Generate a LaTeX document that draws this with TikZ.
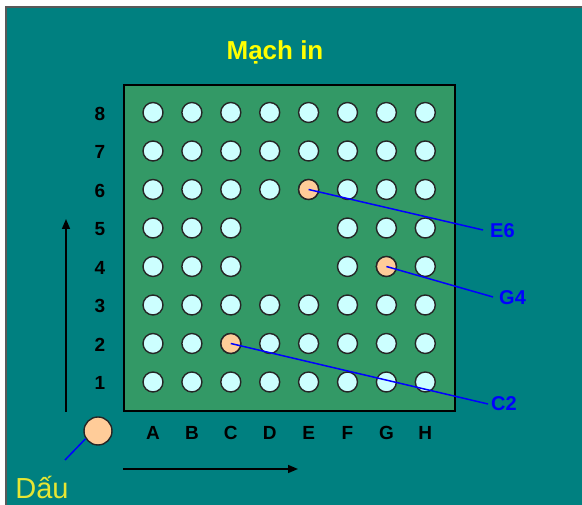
\documentclass[tikz,border=0pt]{standalone}
\usepackage{fontspec}
\setmainfont{Liberation Sans}
\usetikzlibrary{positioning,arrows.meta}
\definecolor{bgteal}{HTML}{008080}
\definecolor{boardgreen}{HTML}{339966}
\definecolor{holefill}{HTML}{CCFFFF}
\definecolor{padfill}{HTML}{FFCC99}
\definecolor{titleyellow}{HTML}{FFFF00}
\definecolor{markyellow}{HTML}{E6E633}

\begin{document}
\begin{tikzpicture}[x=1pt,y=1pt,
    hole/.style={circle,draw=black!85,line width=1.4pt,fill=holefill,minimum size=20pt,inner sep=0pt},
    pad/.style={hole,fill=padfill},
    axislbl/.style={font=\bfseries\fontsize{19}{19}\selectfont},
    pinlbl/.style={font=\bfseries\fontsize{20}{20}\selectfont,text=blue,anchor=west,inner sep=0pt},
    pinline/.style={draw=blue,line width=1.5pt},
    dirarrow/.style={-{Triangle[length=10pt,width=8pt]},line width=1.6pt}]
    \useasboundingbox (0,0) rectangle (582,505);
    \fill[white] (0,0) rectangle (582,505);
    \fill[bgteal] (6,0) rectangle (582,498);
    \draw[black!65,line width=1.5pt] (6,-2) -- (6,498) -- (584,498);
    % board
    \draw[fill=boardgreen,line width=1.3pt] (124,94) rectangle (455,420);
    \node (title) [font=\bfseries\fontsize{26}{26}\selectfont,text=titleyellow] at (275,453) {Mạch in};
    % holes
    \foreach \c [count=\i] in {A,B,C,D,E,F,G,H} {
        \node (lbl\c) [axislbl] at ({153+38.9*(\i-1)},72) {\c};
        \foreach \r in {1,...,8} {
            \pgfmathtruncatemacro\holeon{((\i==4 || \i==5) && (\r==4 || \r==5)) ? 0 : 1}
            \ifnum\holeon=1
                \node (\c\r) [hole] at ({153+38.9*(\i-1)},{123+38.5*(\r-1)}) {};
            \fi
        }
    }
    \foreach \r in {1,...,8}
        \node (row\r) [axislbl] at (100,{122+38.5*(\r-1)}) {\r};
    \foreach \p in {E6,G4,C2}
        \node (pad\p) [pad] at (\p) {};
    % pin labels
    \node (lblE6) [pinlbl] at (490,274) {E6};
    \node (lblG4) [pinlbl] at (499,207) {G4};
    \node (lblC2) [pinlbl] at (491,101) {C2};
    \draw[pinline] (padE6.center) -- ([xshift=-7pt,yshift=1pt]lblE6.west);
    \draw[pinline] (padG4.center) -- ([xshift=-6pt,yshift=1pt]lblG4.west);
    \draw[pinline] (padC2.center) -- ([xshift=-3pt]lblC2.west);
    % mark
    \node (dau) [pad,minimum size=28pt] at (98,74) {};
    \node (daulbl) [font=\fontsize{29}{29}\selectfont,text=markyellow] at (42,17) {Dấu};
    \coordinate (dautip) at (65,45);
    \draw[pinline] (dau.212) -- (dautip);
    % directions
    \coordinate (vfrom) at (66,93);
    \coordinate (vto) at (66,286);
    \coordinate (hfrom) at (123,36);
    \coordinate (hto) at (298,36);
    \draw[dirarrow] (vfrom) -- (vto);
    \draw[dirarrow] (hfrom) -- (hto);
\end{tikzpicture}
\end{document}
